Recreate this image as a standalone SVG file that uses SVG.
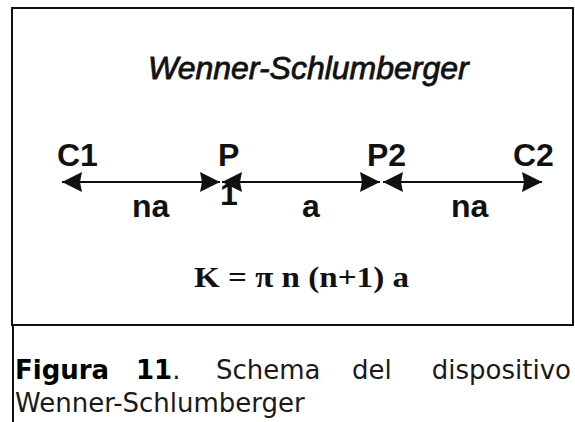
<svg xmlns="http://www.w3.org/2000/svg" width="575" height="422" viewBox="0 0 575 422">
<style>
.lbl{font-family:"Liberation Sans",Arial,sans-serif;font-weight:bold;font-size:32px;fill:#111}
.ttl{font-family:"Liberation Sans",Arial,sans-serif;font-style:italic;font-size:32px;fill:#111;stroke:#111;stroke-width:0.8}
.frm{font-family:"Liberation Serif","Times New Roman",serif;font-weight:bold;font-size:30px;fill:#111}
.cap{font-family:"DejaVu Sans",Verdana,sans-serif;font-size:26px;fill:#1a1a1a}
.b{font-weight:bold;fill:#000}
.conn{stroke:#111;stroke-width:2;fill:none}
</style>
<defs>
<marker id="ah" viewBox="0 0 20 20" refX="20" refY="10" markerWidth="20" markerHeight="20" markerUnits="userSpaceOnUse" orient="auto-start-reverse">
<path d="M0,0 L20,10 L0,20 L2,10 Z" fill="#111"/>
</marker>
</defs>
<rect width="575" height="422" fill="#fff"/>
<g id="frame">
<rect x="12" y="8" width="561" height="317" fill="none" stroke="#111" stroke-width="2"/>
<line x1="13" y1="325" x2="13" y2="422" stroke="#111" stroke-width="2"/>
</g>
<g id="title"><text class="ttl" x="148" y="79">Wenner-Schlumberger</text></g>
<g id="C1"><text class="lbl" x="57" y="166">C1</text></g>
<g id="P"><text class="lbl" x="218" y="166">P</text><text class="lbl" x="220" y="205" font-size="24" font-weight="normal">1</text></g>
<g id="P2"><text class="lbl" x="367" y="166">P2</text></g>
<g id="C2"><text class="lbl" x="513" y="166">C2</text></g>
<g id="connectors">
<line class="conn" x1="62" y1="182" x2="220" y2="182" marker-start="url(#ah)" marker-end="url(#ah)"/>
<line class="conn" x1="222" y1="182" x2="380" y2="182" marker-start="url(#ah)" marker-end="url(#ah)"/>
<line class="conn" x1="383" y1="182" x2="542" y2="182" marker-start="url(#ah)" marker-end="url(#ah)"/>
</g>
<g id="labels">
<text class="lbl" x="132" y="217">na</text>
<text class="lbl" x="302" y="217">a</text>
<text class="lbl" x="451" y="217">na</text>
</g>
<g id="formula"><text class="frm" x="194" y="287" textLength="215" lengthAdjust="spacingAndGlyphs">K = π n (n+1) a</text></g>
<g id="caption">
<text class="cap b" x="15" y="379">Figura</text>
<text class="cap" x="136" y="379"><tspan class="b">11</tspan>.</text>
<text class="cap" x="216" y="379">Schema</text>
<text class="cap" x="352" y="379">del</text>
<text class="cap" x="571" y="379" text-anchor="end">dispositivo</text>
<text class="cap" x="15" y="412">Wenner-Schlumberger</text>
</g>
</svg>
